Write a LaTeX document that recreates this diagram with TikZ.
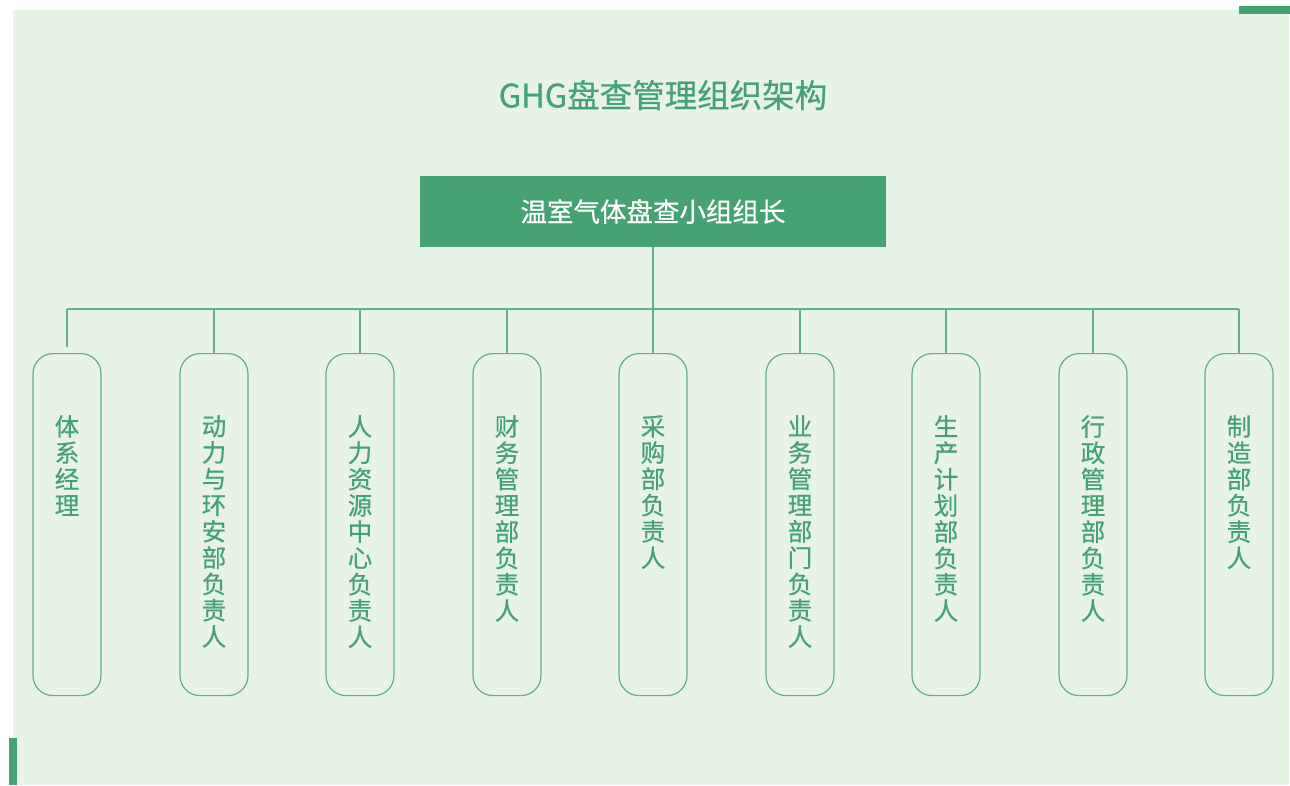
\documentclass[tikz,border=0pt]{standalone}
\usepackage{fontspec}
\newfontfamily\cjk{Noto Sans CJK SC}
\newfontfamily\cjkb[FakeBold=0.6]{Noto Sans CJK SC}
\definecolor{bgc}{HTML}{E7F3E7}
\definecolor{mg}{HTML}{46A173}
\definecolor{lg}{HTML}{62B088}
\begin{document}
\begin{tikzpicture}[x=1pt,y=-1pt,
  rolebox/.style={draw=lg,line width=1.2pt,rounded corners=20pt,minimum width=68pt,minimum height=342pt,anchor=north,inner sep=0pt},
  roletext/.style={anchor=north,align=center,inner sep=0pt,text=mg,font=\cjkb\fontsize{24.5}{26.3}\selectfont},
  link/.style={draw=lg,line width=1.2pt}]
\useasboundingbox (0,0) rectangle (1290,785);
\fill[white] (0,0) rectangle (1290,785);
\fill[bgc] (13,10) rectangle (1289,785);
\fill[mg] (1239,6) rectangle (1290,14);
\fill[mg] (9,738) rectangle (17,785);
\node[text=mg,font=\cjkb\fontsize{32.5}{36}\selectfont] (title) at (663,95) {GHG盘查管理组织架构};
\node[fill=mg,minimum width=466pt,minimum height=71pt,inner sep=0pt,text=white,font=\cjkb\fontsize{26.5}{30}\selectfont] (head) at (653,211.5) {温室气体盘查小组组长};
\coordinate (bus) at (653,309);
\draw[link] (head.south) -- (bus);
\foreach \i/\x/\t in {1/67/{体\\系\\经\\理},2/214/{动\\力\\与\\环\\安\\部\\负\\责\\人},3/360/{人\\力\\资\\源\\中\\心\\负\\责\\人},4/507/{财\\务\\管\\理\\部\\负\\责\\人},5/653/{采\\购\\部\\负\\责\\人},6/800/{业\\务\\管\\理\\部\\门\\负\\责\\人},7/946/{生\\产\\计\\划\\部\\负\\责\\人},8/1093/{行\\政\\管\\理\\部\\负\\责\\人},9/1239/{制\\造\\部\\负\\责\\人}}{
  \node[rolebox] (b\i) at (\x,353) {};
  \node[roletext] (t\i) at (\x,415) {\t};
  \coordinate (c\i) at (\x,309);
}
\draw[link] (c1) -- (c9);
\coordinate (e1) at (67,347);
\draw[link] (c1) -- (e1);
\foreach \i in {2,...,9}{\draw[link] (c\i) -- (b\i.north);}
\end{tikzpicture}
\end{document}
